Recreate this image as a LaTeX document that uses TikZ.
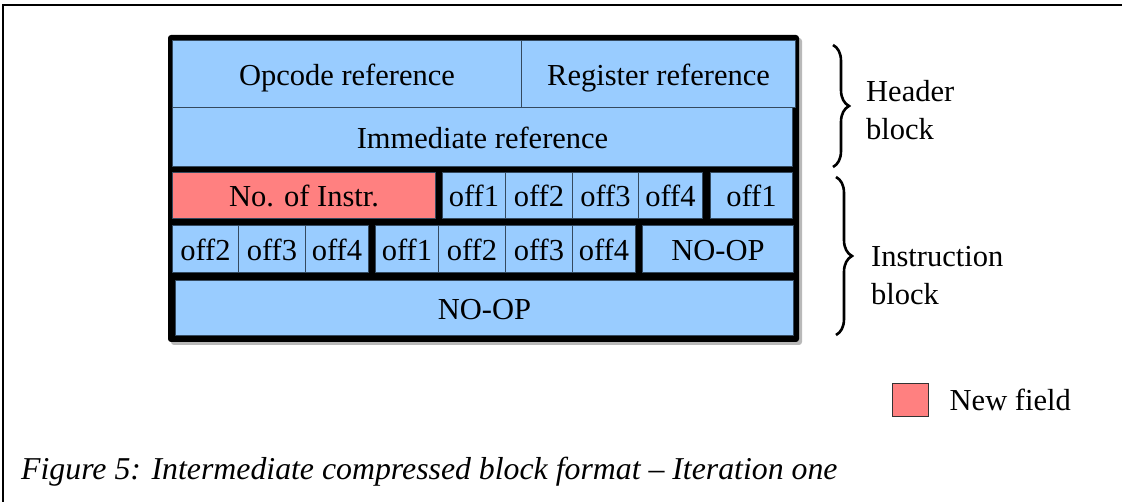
\documentclass[tikz,border=0pt]{standalone}
\usepackage{fontspec}
\setmainfont{Liberation Serif}
\usetikzlibrary{positioning, decorations.pathreplacing}
\definecolor{cellblue}{RGB}{153, 204, 255}
\definecolor{newred}{RGB}{255, 128, 128}
\definecolor{cellline}{RGB}{52, 73, 94}

\tikzset{
  cell/.style={draw=cellline, line width=1pt, fill=cellblue, inner sep=0pt, anchor=north west,
               text height=23pt, text depth=0pt},
  newcell/.style={cell, fill=newred},
  bracket/.style={decorate, decoration={brace, amplitude=16pt}, line width=2.6pt},
  sidelabel/.style={align=left, anchor=west, inner sep=0pt}
}

\begin{document}
\begin{tikzpicture}[x=1pt, y=-1pt, font=\fontsize{30.5}{38}\selectfont]
  \useasboundingbox (0,0) rectangle (1122,502);
  \draw[line width=1.4pt] (3,502) -- (3,5) -- (1122,5);

  % outer block, the black shows through the gaps
  \fill[gray!55, rounded corners=3pt] (171,38) rectangle (802,345);
  \fill[black, rounded corners=3pt] (168,35) rectangle (799,342);

  % header block
  \node[cell, minimum width=349pt, minimum height=67pt] (opcode) at (172,40) {Opcode reference};
  \node[cell, minimum width=274pt, minimum height=67pt] (register) at (521,40) {Register reference};
  \node[cell, minimum width=620pt, minimum height=59pt] (immediate) at (172,107) {Immediate reference};

  % instruction block
  \node[newcell, minimum width=263pt, minimum height=46pt] (ninstr) at (172,172) {No. of Instr.};
  \foreach \x/\w/\t [count=\i] in {442/63/off1, 505/67/off2, 572/66/off3, 638/64/off4, 710/82/off1} {
    \node[cell, minimum width=\w pt, minimum height=46pt] (a\i) at (\x,172) {\t};
  }
  \foreach \x/\w/\t [count=\i] in {172/66/off2, 238/67/off3, 305/63/off4, 375/63/off1,
                                    438/67/off2, 505/67/off3, 572/63/off4} {
    \node[cell, minimum width=\w pt, minimum height=47pt] (b\i) at (\x,225) {\t};
  }
  \node[cell, minimum width=151pt, minimum height=47pt] (noopa) at (642,225) {NO-OP};
  \node[cell, minimum width=618pt, minimum height=55pt] (noopb) at (175,280) {NO-OP};

  % braces
  \coordinate (htop) at (833,45);
  \coordinate (hbot) at (833,167);
  \coordinate (itop) at (836,177);
  \coordinate (ibot) at (836,335);
  \draw[bracket] (htop) -- (hbot);
  \draw[bracket] (itop) -- (ibot);
  \node[sidelabel] (hlabel) at (866,110) {Header\\block};
  \node[sidelabel] (ilabel) at (871,276) {Instruction\\block};

  % legend
  \node[newcell, draw=gray!40!black, anchor=center, minimum width=36pt, minimum height=33pt] (legbox) at (910,400) {};
  \node[right=21pt of legbox, inner sep=0pt] (legtext) {New field};

  \node[anchor=west, inner sep=0pt, font=\fontsize{31.8}{38}\selectfont\itshape] (caption) at (21,472)
    {Figure 5: Intermediate compressed block format -- Iteration one};
\end{tikzpicture}
\end{document}
